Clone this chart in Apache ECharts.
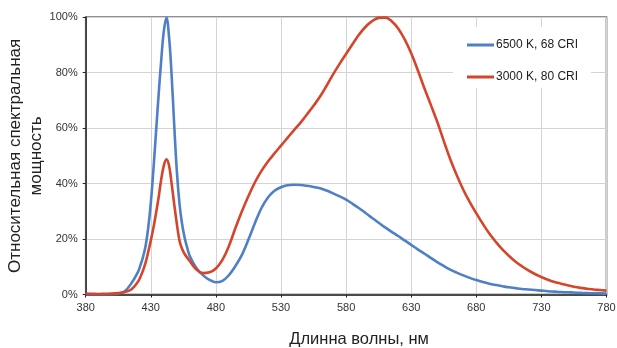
<!DOCTYPE html>
<html>
<head>
<meta charset="utf-8">
<script src="https://cdn.jsdelivr.net/npm/echarts@6/dist/echarts.min.js"></script>
<style>
html,body{margin:0;padding:0;background:#fff;}
#chart{width:617px;height:348px;}
</style>
</head>
<body>
<div id="chart"></div>
<script>
// Wavelengths (nm)
const wavelengths = [380, 385, 390, 395, 400, 405, 410, 415, 420, 422, 424, 426, 428, 430, 432, 434, 436, 438, 440, 442, 444, 446, 448, 450, 452, 454, 456, 458, 460, 465, 470, 475, 480, 485, 490, 495, 500, 505, 510, 515, 520, 525, 530, 535, 540, 545, 550, 555, 560, 565, 570, 575, 580, 585, 590, 595, 600, 605, 610, 615, 620, 625, 630, 635, 640, 645, 650, 655, 660, 665, 670, 675, 680, 685, 690, 695, 700, 705, 710, 715, 720, 725, 730, 735, 740, 745, 750, 755, 760, 765, 770, 775, 780];
// 6500 K, 68 CRI (%)
const cool6500 = [0, 0, 0, 0.05, 0.1, 0.4, 1.2, 4, 8, 10.5, 13.5, 17.5, 24, 33, 45, 58.5, 72, 84.5, 95, 99.8, 93, 79, 61, 44.5, 33, 25.5, 20.5, 16.8, 13.8, 9.6, 7, 5.3, 4.4, 4.9, 7, 10.3, 14.3, 19.8, 25.8, 31.2, 35, 37.4, 38.7, 39.4, 39.6, 39.5, 39.2, 38.8, 38.3, 37.5, 36.5, 35.4, 34.2, 32.7, 31.1, 29.4, 27.6, 25.9, 24.2, 22.6, 21.1, 19.5, 17.9, 16.3, 14.8, 13.2, 11.7, 10.3, 9, 7.9, 6.9, 6, 5.2, 4.5, 3.9, 3.4, 3, 2.6, 2.3, 2, 1.8, 1.6, 1.4, 1.2, 1.05, 0.9, 0.8, 0.7, 0.6, 0.5, 0.45, 0.4, 0.3];
// 3000 K, 80 CRI (%)
const warm3000 = [0.3, 0.25, 0.2, 0.25, 0.3, 0.5, 0.9, 1.8, 4.5, 6.3, 8.6, 11.5, 15.3, 19.5, 24, 29.3, 35, 41.5, 46.5, 48.8, 46.5, 40, 32.5, 25.5, 19.5, 16.5, 14.6, 13.3, 12, 9, 7.7, 8, 9.4, 12.5, 17.5, 24, 30, 35.5, 40.5, 44.6, 48, 50.9, 53.7, 56.5, 59.3, 62, 65, 68.1, 71.4, 75.3, 79.4, 83.2, 86.8, 90.4, 93.8, 96.6, 98.6, 99.8, 99.9, 98.6, 96, 92, 87, 81, 74.6, 68.5, 62.3, 55.4, 48.8, 43, 37.8, 33.3, 29.3, 25.5, 22, 19, 16.3, 14, 11.9, 10.2, 8.7, 7.4, 6.3, 5.3, 4.5, 3.9, 3.3, 2.8, 2.4, 2.1, 1.8, 1.6, 1.4];
const seriesNames = ['6500 K, 68 CRI', '3000 K, 80 CRI'];
const xTitle = 'Длинна волны, нм';
const yTitle = 'Относительная спектральная\nмощность';

const font = "'Liberation Sans', Arial, Helvetica, sans-serif";
const chart = echarts.init(document.getElementById('chart'), null, {renderer: 'canvas'});
const pairs = arr => wavelengths.map((w, i) => [w, arr[i]]);

chart.setOption({
  animation: false,
  backgroundColor: '#ffffff',
  textStyle: {fontFamily: font},
  grid: {left: 85.7, right: 10.5, top: 17.3, bottom: 53.5, containLabel: false, outerBoundsMode: 'none', show: true, borderColor: '#222', borderWidth: 1.5, backgroundColor: 'transparent'},
  legend: {
    orient: 'vertical', left: 453, top: 27,
    padding: [12, 13, 5, 14],
    backgroundColor: '#ffffff',
    itemGap: 20, itemWidth: 27, itemHeight: 3,
    icon: 'rect',
    textStyle: {fontFamily: font, fontSize: 12, color: '#222', padding: [0, 0, 0, -3]},
    data: seriesNames
  },
  xAxis: {
    type: 'value', min: 380, max: 780, interval: 50,
    name: xTitle, nameLocation: 'middle', nameGap: 36, nameMoveOverlap: false,
    nameTextStyle: {fontFamily: font, fontSize: 16.5, color: '#222', padding: [0, 0, 0, 26]},
    axisLine: {show: true, lineStyle: {color: '#222', width: 1.5}},
    axisTick: {show: true, length: 3, lineStyle: {color: '#222'}},
    axisLabel: {fontFamily: font, fontSize: 11, color: '#333', margin: 8},
    splitLine: {show: true, lineStyle: {color: '#d4d4d4', width: 1}}
  },
  yAxis: {
    type: 'value', min: 0, max: 100, interval: 20,
    name: yTitle, nameLocation: 'middle', nameGap: 39, nameRotate: 90, nameMoveOverlap: false,
    nameTextStyle: {fontFamily: font, fontSize: 17, color: '#222', lineHeight: 21},
    axisLine: {show: true, lineStyle: {color: '#222', width: 1.5}},
    axisTick: {show: true, length: 3, lineStyle: {color: '#222'}},
    axisLabel: {fontFamily: font, fontSize: 11, color: '#333', margin: 8, formatter: v => v + '%'},
    splitLine: {show: true, lineStyle: {color: '#d4d4d4', width: 1}}
  },
  series: [
    {name: seriesNames[0], type: 'line', data: pairs(cool6500), smooth: 0.4, showSymbol: false, lineStyle: {color: '#4f7fc6', width: 2.6}, itemStyle: {color: '#4f7fc6'}, z: 3},
    {name: seriesNames[1], type: 'line', data: pairs(warm3000), smooth: 0.4, showSymbol: false, lineStyle: {color: '#d4452b', width: 2.6}, itemStyle: {color: '#d4452b'}, z: 4}
  ]
});
</script>
</body>
</html>
